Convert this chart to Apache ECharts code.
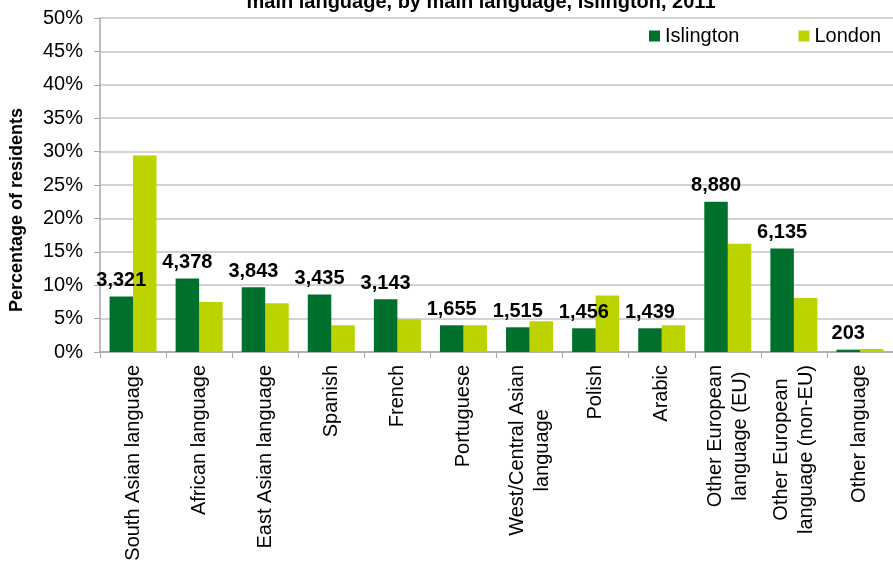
<!DOCTYPE html>
<html>
<head>
<meta charset="utf-8">
<script src="https://cdn.jsdelivr.net/npm/echarts@6/dist/echarts.min.js"></script>
<style>
  html, body { margin: 0; padding: 0; background: #fff; }
  #chart { width: 893px; height: 568px; }
</style>
</head>
<body>
<div id="chart"></div>
<script>
  // categories and values (percent of residents)
  var languages = ['South Asian language', 'African language', 'East Asian language', 'Spanish', 'French',
    'Portuguese', 'West/Central Asian\nlanguage', 'Polish', 'Arabic',
    'Other European\nlanguage (EU)', 'Other European\nlanguage (non-EU)', 'Other language']
  var islington = [8.3, 11.0, 9.7, 8.6, 7.9, 4.0, 3.7, 3.55, 3.55, 22.5, 15.5, 0.35]
  var london = [29.4, 7.5, 7.3, 4.0, 4.9, 4.0, 4.6, 8.45, 4.0, 16.2, 8.1, 0.45]
  // number of Islington residents shown above the bars
  var islingtonCounts = [3321, 4378, 3843, 3435, 3143, 1655, 1515, 1456, 1439, 8880, 6135, 203]

  var font = '"Liberation Sans", Arial, sans-serif'

  function withCommas(n) {
    return String(n).replace(/\B(?=(\d{3})+(?!\d))/g, ',')
  }

  var myChart = echarts.init(document.getElementById('chart'))

  myChart.setOption({
    animation: false,
    title: {
      text: 'main language, by main language, Islington, 2011',
      left: 476,
      textAlign: 'center',
      top: -13,
      textStyle: { fontFamily: font, fontSize: 20, fontWeight: 'bold', color: '#000' }
    },
    legend: {
      data: ['Islington', 'London'],
      left: 644,
      top: 21,
      itemGap: 59,
      itemWidth: 11,
      itemHeight: 11,
      icon: 'rect',
      textStyle: { fontFamily: font, fontSize: 20, color: '#000' }
    },
    grid: {
      left: 100,
      top: 18,
      width: 800,
      height: 334
    },
    xAxis: {
      type: 'category',
      data: languages,
      axisLine: { lineStyle: { color: '#a6a6a6', width: 1.5 } },
      axisTick: { show: true, length: 6, lineStyle: { color: '#a6a6a6' } },
      axisLabel: {
        rotate: 90,
        interval: 0,
        margin: 13,
        align: 'right',
        formatter: function (v) {
          // centre each line of a wrapped label, as in the original
          return v.split('\n').map(function (l) { return '{c|' + l + '}' }).join('\n')
        },
        rich: {
          c: { align: 'center', fontFamily: font, fontSize: 20, lineHeight: 25, color: '#000' }
        }
      }
    },
    yAxis: {
      type: 'value',
      min: 0,
      max: 50,
      interval: 5,
      name: 'Percentage of residents',
      nameLocation: 'middle',
      nameGap: 74,
      nameTextStyle: { fontFamily: font, fontSize: 18, fontWeight: 'bold', color: '#000', padding: [0, 50, 0, 0] },
      axisLine: { show: true, lineStyle: { color: '#a6a6a6', width: 1.5 } },
      axisTick: { show: true, length: 6, lineStyle: { color: '#a6a6a6' } },
      axisLabel: {
        formatter: '{value}%',
        margin: 17,
        fontFamily: font,
        fontSize: 20,
        color: '#000'
      },
      splitLine: { lineStyle: { color: '#c4c4c4', width: 1.5 } }
    },
    series: [
      {
        name: 'Islington',
        type: 'bar',
        data: islington,
        barWidth: 23.5,
        barGap: '0%',
        itemStyle: { color: '#00702c' },
        label: {
          show: true,
          position: 'top',
          distance: 6,
          fontFamily: font,
          fontSize: 20,
          fontWeight: 'bold',
          color: '#000',
          formatter: function (p) { return withCommas(islingtonCounts[p.dataIndex]) }
        },
        z: 3
      },
      {
        name: 'London',
        type: 'bar',
        data: london,
        barWidth: 23.5,
        barGap: '0%',
        itemStyle: { color: '#bcd300' },
        z: 2
      }
    ]
  })
</script>
</body>
</html>
